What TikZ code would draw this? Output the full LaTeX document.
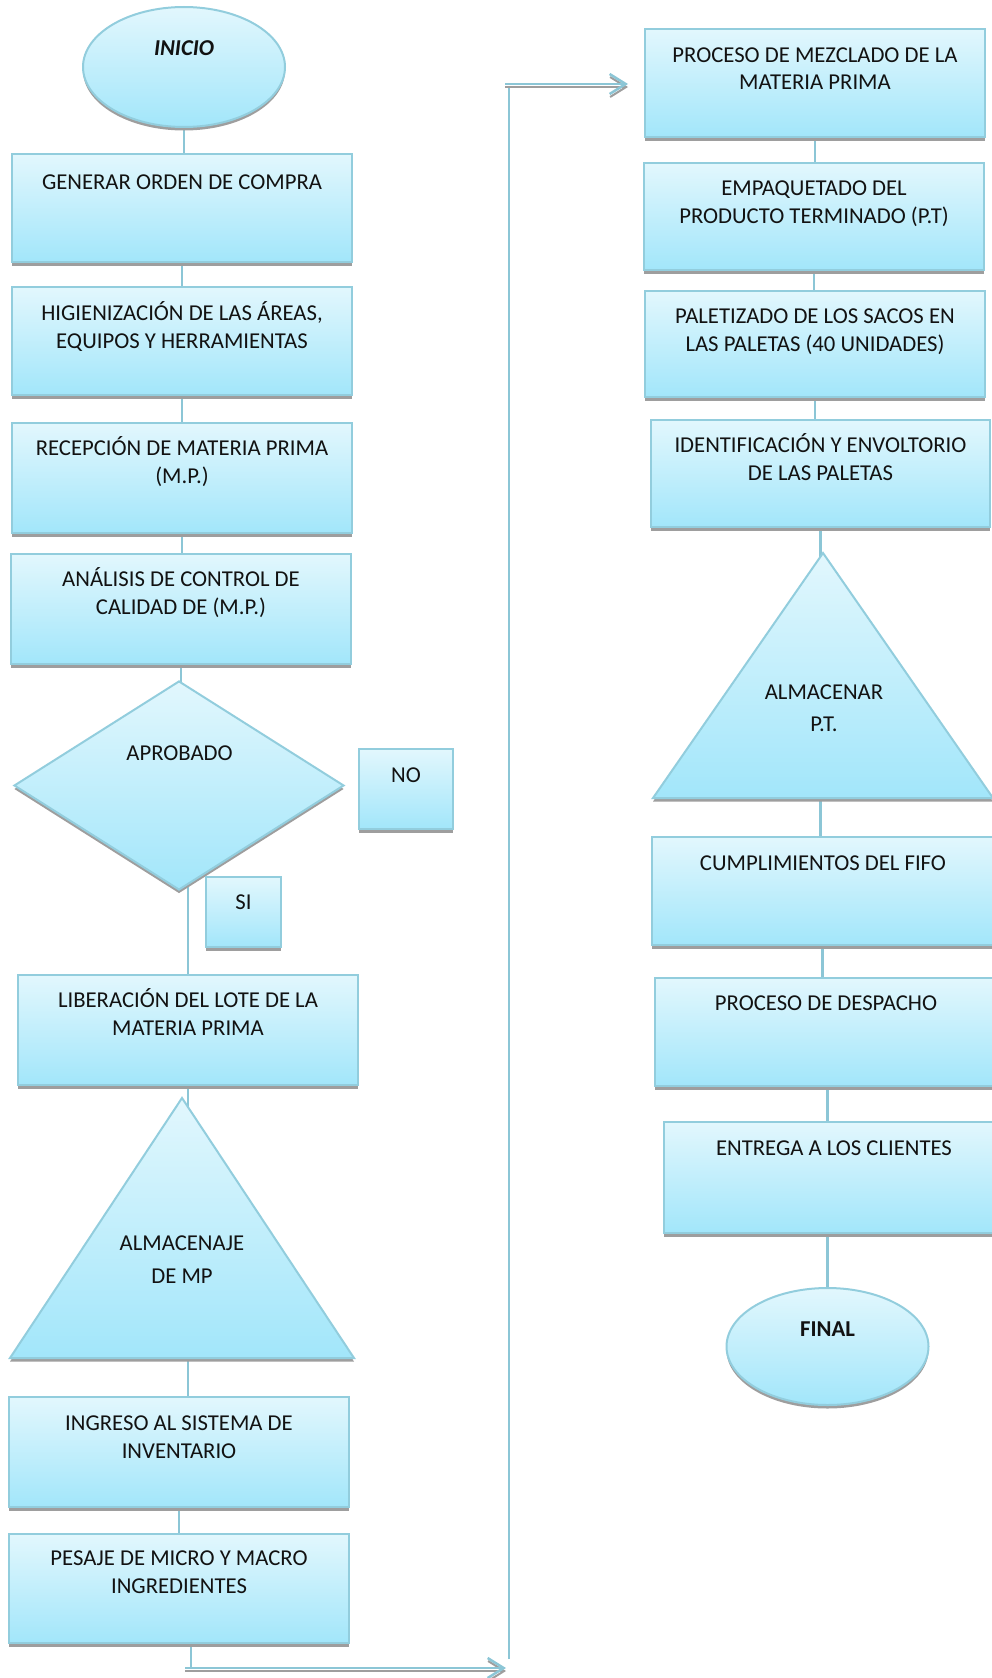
\documentclass[tikz,border=0pt]{standalone}
\usepackage{fontspec}
\setmainfont{Carlito}
\usetikzlibrary{shapes.geometric,shadows,arrows.meta,backgrounds}

\definecolor{fillTop}{RGB}{226,247,253}
\definecolor{fillBot}{RGB}{162,230,250}
\definecolor{edgeblue}{RGB}{146,205,221}
\definecolor{wireblue}{RGB}{140,198,214}
\definecolor{shadowgray}{RGB}{158,158,158}
\definecolor{ink}{RGB}{18,18,18}

% fixed height for the first line of every caption
\newcommand\firstrule{\rule{0pt}{20pt}}

\begin{document}
\begin{tikzpicture}[x=1pt,y=-1pt,
  blockfill/.style={draw=edgeblue, line width=2pt, top color=fillTop, bottom color=fillBot,
    inner sep=0pt, drop shadow={shadow xshift=0pt, shadow yshift=-3.5pt, fill=shadowgray, opacity=1}},
  box/.style={blockfill, rectangle},
  oval/.style={blockfill, ellipse},
  txt/.style={font=\fontsize{22.7pt}{27.7pt}\selectfont, align=center, inner sep=0pt,
    text=ink, anchor=north},
  link/.style={draw=wireblue, line width=2.2pt},
  flow/.style={draw=wireblue, line width=2.5pt, -{Straight Barb[length=16pt,width=20pt]}},
  flowshadow/.style={draw=shadowgray, line width=2pt, -{Straight Barb[length=16pt,width=20pt]},
    transform canvas={yshift=-3pt}},
]
\useasboundingbox (0,0) rectangle (992,1678);
\clip (0,0) rectangle (992,1678);

% ---------- left column ----------
\node[oval, minimum width=202pt, minimum height=120pt] (start) at (184,67) {};
\node[txt, font=\fontsize{22.7pt}{27.7pt}\selectfont\bfseries\itshape] (startT) at (184,35.3) {\firstrule INICIO};

\node[box, minimum width=340pt, minimum height=108pt] (b1) at (182,208) {};
\node[txt] (b1T) at (182,169.3) {\firstrule GENERAR ORDEN DE COMPRA};

\node[box, minimum width=340pt, minimum height=108pt] (b2) at (182,341) {};
\node[txt] (b2T) at (182,300.3) {\firstrule HIGIENIZACIÓN DE LAS ÁREAS,\\EQUIPOS Y HERRAMIENTAS};

\node[box, minimum width=340pt, minimum height=110pt] (b3) at (182,478) {};
\node[txt] (b3T) at (182,435.3) {\firstrule RECEPCIÓN DE MATERIA PRIMA\\(M.P.)};

\node[box, minimum width=340pt, minimum height=110pt] (b4) at (181,609) {};
\node[txt] (b4T) at (181,566.3) {\firstrule ANÁLISIS DE CONTROL DE\\CALIDAD DE (M.P.)};

\node[blockfill, diamond, minimum width=330pt, minimum height=209pt] (dec) at (179,785.5) {};
\node[txt] (decT) at (179.5,740.3) {\firstrule APROBADO};

\node[box, minimum width=94pt, minimum height=80pt] (no) at (406,789) {};
\node[txt] (noT) at (406,762.3) {\firstrule NO};

\node[box, minimum width=75pt, minimum height=70pt] (si) at (243.5,912) {};
\node[txt] (siT) at (243.5,889.3) {\firstrule SI};

\node[box, minimum width=340pt, minimum height=110pt] (b5) at (188,1030) {};
\node[txt] (b5T) at (188,987.3) {\firstrule LIBERACIÓN DEL LOTE DE LA\\MATERIA PRIMA};

\coordinate (tA1) at (182,1098);
\coordinate (tL1) at (10,1358);
\coordinate (tR1) at (354,1358);
\path[blockfill] (tA1) -- (tL1) -- (tR1) -- cycle;
\node[txt] (tri1T) at (182,1230.3) {\firstrule ALMACENAJE\\[5pt]DE MP};

\node[box, minimum width=340pt, minimum height=110pt] (b6) at (179,1452) {};
\node[txt] (b6T) at (179,1410.3) {\firstrule INGRESO AL SISTEMA DE\\INVENTARIO};

\node[box, minimum width=340pt, minimum height=109pt] (b7) at (179,1588.5) {};
\node[txt] (b7T) at (179,1545.3) {\firstrule PESAJE DE MICRO Y MACRO\\INGREDIENTES};

% ---------- right column ----------
\node[box, minimum width=340pt, minimum height=108pt] (r1) at (815,83) {};
\node[txt] (r1T) at (815,42) {\firstrule PROCESO DE MEZCLADO DE LA\\MATERIA PRIMA};

\node[box, minimum width=340pt, minimum height=107pt] (r2) at (814,216.5) {};
\node[txt] (r2T) at (814,175.3) {\firstrule EMPAQUETADO DEL\\PRODUCTO TERMINADO (P.T)};

\node[box, minimum width=340pt, minimum height=106pt] (r3) at (815,344) {};
\node[txt] (r3T) at (815,303.3) {\firstrule PALETIZADO DE LOS SACOS EN\\LAS PALETAS (40 UNIDADES)};

\node[box, minimum width=339pt, minimum height=107pt] (r4) at (820.5,473.5) {};
\node[txt] (r4T) at (820.5,432.3) {\firstrule IDENTIFICACIÓN Y ENVOLTORIO\\DE LAS PALETAS};

\coordinate (tA2) at (823,553);
\coordinate (tL2) at (653,798);
\coordinate (tR2) at (993,798);
\path[blockfill] (tA2) -- (tL2) -- (tR2) -- cycle;
\node[txt] (tri2T) at (824,679.3) {\firstrule ALMACENAR\\[4pt]P.T.};

\node[box, minimum width=341pt, minimum height=108pt] (r5) at (822.5,891) {};
\node[txt] (r5T) at (823,850.3) {\firstrule CUMPLIMIENTOS DEL FIFO};

\node[box, minimum width=342pt, minimum height=108pt] (r6) at (826,1032) {};
\node[txt] (r6T) at (826,990.3) {\firstrule PROCESO DE DESPACHO};

\node[box, minimum width=340pt, minimum height=111pt] (r7) at (834,1177.5) {};
\node[txt] (r7T) at (834,1135.3) {\firstrule ENTREGA A LOS CLIENTES};

\node[oval, minimum width=202pt, minimum height=117pt] (stop) at (827.5,1346.5) {};
\node[txt, font=\fontsize{22.7pt}{27.7pt}\selectfont\bfseries] (stopT) at (827.5,1316.3) {\firstrule FINAL};

% ---------- jump between the two columns ----------
\coordinate (drop) at (191,1668);
\coordinate (a1s) at (185,1668);
\coordinate (a1e) at (506,1668);
\coordinate (upB) at (509,1659);
\coordinate (upT) at (509,86);
\coordinate (a2s) at (505,84);
\coordinate (a2e) at (628,84);

\draw[flowshadow] (a1s) -- (a1e);
\draw[flow] (a1s) -- (a1e);
\draw[flowshadow] (a2s) -- (a2e);
\draw[flow] (a2s) -- (a2e);

% ---------- connectors ----------
\begin{scope}[on background layer]
  \draw[link] (start.center) -- (start.center |- b1.north);
  \draw[link] (b1.south) -- (b1.south |- b2.north);
  \draw[link] (b2.south) -- (b2.south |- b3.north);
  \draw[link] (b3.south) -- (b3.south |- b4.north);
  \draw[link] (b4.south) -- (b4.south |- dec.center);
  \draw[link] (b5.north |- dec.center) -- (b5.north);
  \draw[link] (b5.south) -- (b5.south |- b6.north);
  \draw[link] (b6.south) -- (b6.south |- b7.north);
  \draw[link] (b7.south -| drop) -- (drop);
  \draw[link] (upB) -- (upT);
  \draw[link] (r1.south) -- (r1.south |- r2.north);
  \draw[link] (r2.south) -- (r2.south |- r3.north);
  \draw[link] (r3.south) -- (r3.south |- r4.north);
  \draw[link] (r4.south) -- (r4.south |- r5.north);
  \draw[link] (r5.south) -- (r5.south |- r6.north);
  \draw[link] (stop.center |- r6.south) -- (stop.center |- r7.north);
  \draw[link] (stop.center |- r7.south) -- (stop.center);
\end{scope}
\end{tikzpicture}
\end{document}
